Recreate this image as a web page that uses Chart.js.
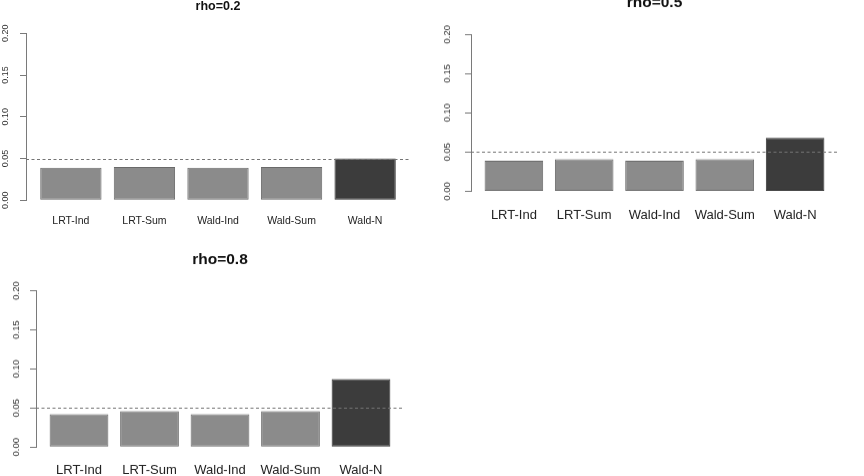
<!DOCTYPE html>
<html>
<head>
<meta charset="utf-8">
<script src="https://cdn.jsdelivr.net/npm/chart.js@4/dist/chart.umd.min.js"></script>
<style>
  html, body { margin: 0; padding: 0; background: #fff; }
  body { width: 864px; height: 476px; position: relative; overflow: hidden; }
  .panel { position: absolute; }
</style>
</head>
<body>
<div id="p1" class="panel"><canvas></canvas></div>
<div id="p2" class="panel"><canvas></canvas></div>
<div id="p3" class="panel"><canvas></canvas></div>
<script>
// test names and empirical type I error, one array per rho
const methods = ["LRT-Ind", "LRT-Sum", "Wald-Ind", "Wald-Sum", "Wald-N"];
const rho02 = [0.039, 0.040, 0.039, 0.040, 0.050];
const rho05 = [0.039, 0.041, 0.039, 0.041, 0.068];
const rho08 = [0.042, 0.046, 0.042, 0.046, 0.087];
const yTicks = [0, 0.05, 0.1, 0.15, 0.2];
const nominalLevel = 0.05;

const FONT = "'Liberation Sans', Arial, Helvetica, sans-serif";
const LIGHT = "#8b8b8b";
const DARK = "#3c3c3c";
const AXIS_COLOR = "#7a7a7a";
const TICK_LEN = 6;
const Y_AXIS_W = 40;
const X_AXIS_H = 40;

// R barplot layout: width 1, space 0.2, plus 4% axis extension
const barX = (i) => 0.7 + 1.2 * i;
const X_MIN = 0.2 - 0.232;
const X_MAX = 6.0 + 0.232;

// plot regions (pixels)
const panels = [
  { id: "p1", title: "rho=0.2", values: rho02, l: 26, r: 410, t: 33, b: 200,
    titleY: 6, titleSize: 12.5, xSize: 10.5, ySize: 9, xLabelY: 221, yLabelX: 6 },
  { id: "p2", title: "rho=0.5", values: rho05, l: 471, r: 838, t: 34.5, b: 190.7,
    titleY: 3, titleSize: 15.5, xSize: 13, ySize: 9.5, xLabelY: 215, yLabelX: 447 },
  { id: "p3", title: "rho=0.8", values: rho08, l: 36, r: 404, t: 290.7, b: 446.5,
    titleY: 260, titleSize: 15.5, xSize: 13, ySize: 9.5, xLabelY: 470, yLabelX: 16 },
];

const measureCtx = document.createElement("canvas").getContext("2d");
const textWidth = (txt, size) => {
  measureCtx.font = `normal ${size}px ${FONT}`;
  return measureCtx.measureText(txt).width;
};

// dashed reference line at the nominal level, drawn over the bars
const refLinePlugin = {
  id: "refLine",
  afterDatasetsDraw(chart) {
    const { ctx, chartArea, scales } = chart;
    const y = Math.round(scales.y.getPixelForValue(nominalLevel)) + 0.5;
    ctx.save();
    ctx.strokeStyle = "#747474";
    ctx.lineWidth = 1;
    ctx.setLineDash([3, 2.5]);
    ctx.beginPath();
    ctx.moveTo(chartArea.left, y);
    ctx.lineTo(chartArea.right, y);
    ctx.stroke();
    ctx.restore();
  },
};

const makePanel = (p) => {
  const div = document.getElementById(p.id);
  const top = p.titleY - p.titleSize / 2;
  div.style.left = p.l - Y_AXIS_W + "px";
  div.style.top = top + "px";
  div.style.width = p.r - p.l + Y_AXIS_W + "px";
  div.style.height = p.b - top + X_AXIS_H + "px";

  const titleGap = p.t - top - p.titleSize;
  const xPad = p.xLabelY - p.b - p.xSize * 0.6;
  const yPad = p.l - p.yLabelX - TICK_LEN - textWidth("0.20", p.ySize) / 2;
  const last = p.values.length - 1;

  new Chart(div.querySelector("canvas"), {
    type: "bar",
    data: {
      datasets: [
        {
          data: p.values.map((v, i) => ({ x: barX(i), y: v })),
          backgroundColor: p.values.map((v, i) => (i === last ? DARK : LIGHT)),
          borderColor: p.values.map((v, i) => (i === last ? "#333" : "#6a6a6a")),
          borderWidth: 1,
          borderSkipped: false,
          barPercentage: 1 / 1.2,
          categoryPercentage: 1,
        },
      ],
    },
    options: {
      responsive: true,
      maintainAspectRatio: false,
      animation: false,
      layout: { padding: 0 },
      plugins: {
        legend: { display: false },
        tooltip: { enabled: false },
        title: {
          display: true,
          text: p.title,
          fullSize: false,
          color: "#111",
          font: { family: FONT, size: p.titleSize, weight: "bold", lineHeight: 1 },
          padding: { top: 0, bottom: titleGap },
        },
      },
      scales: {
        x: {
          type: "linear",
          min: X_MIN,
          max: X_MAX,
          offset: false,
          grid: { display: false, drawTicks: false, offset: false },
          border: { display: false },
          afterBuildTicks: (axis) => {
            axis.ticks = methods.map((m, i) => ({ value: barX(i) }));
          },
          afterFit: (axis) => {
            axis.height = X_AXIS_H;
          },
          ticks: {
            autoSkip: false,
            minRotation: 0,
            maxRotation: 0,
            padding: xPad,
            color: "#222",
            font: { family: FONT, size: p.xSize, lineHeight: 1.2 },
            callback: (v, i) => methods[i],
          },
        },
        y: {
          min: 0,
          max: 0.2,
          afterBuildTicks: (axis) => {
            axis.ticks = yTicks.map((v) => ({ value: v }));
          },
          afterFit: (axis) => {
            axis.width = Y_AXIS_W;
          },
          grid: {
            drawOnChartArea: false,
            drawTicks: true,
            tickLength: TICK_LEN,
            color: AXIS_COLOR,
          },
          border: { display: true, color: AXIS_COLOR },
          ticks: {
            autoSkip: false,
            minRotation: 90,
            maxRotation: 90,
            crossAlign: "center",
            padding: yPad,
            color: "#333",
            font: { family: FONT, size: p.ySize },
            callback: (v) => v.toFixed(2),
          },
        },
      },
    },
    plugins: [refLinePlugin],
  });
};

panels.forEach(makePanel);
</script>
</body>
</html>
